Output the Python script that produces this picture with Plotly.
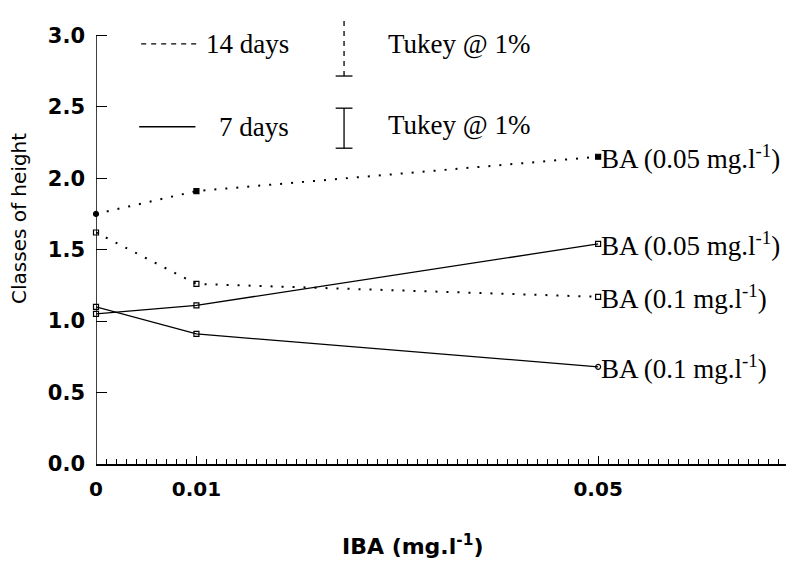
import plotly.graph_objects as go

# ---- data ----
iba = [0, 0.01, 0.05]
d14_ba005 = [1.75, 1.91, 2.15]
d14_ba01 = [1.62, 1.26, 1.17]
d7_ba005 = [1.05, 1.11, 1.54]
d7_ba01 = [1.10, 0.91, 0.68]
series_labels = ["BA (0.05 mg.l<sup>-1</sup>)", "BA (0.1 mg.l<sup>-1</sup>)",
                 "BA (0.05 mg.l<sup>-1</sup>)", "BA (0.1 mg.l<sup>-1</sup>)"]
x_tick_vals = [0, 0.01, 0.05]
x_tick_text = ["0", "0.01", "0.05"]
y_tick_vals = [0, 0.5, 1.0, 1.5, 2.0, 2.5, 3.0]
y_tick_text = ["0.0", "0.5", "1.0", "1.5", "2.0", "2.5", "3.0"]
tukey_14 = 0.41
tukey_7 = 0.28
tukey_14_center = 2.92
tukey_7_center = 2.35

SERIF = "Liberation Serif"
SANS = "DejaVu Sans"
DOT = "2px,9px"
DASH = "5px,5px"
SERIF_SIZE = 27

fig = go.Figure()

def add_series(y, dash, symbols, width):
    fig.add_trace(go.Scatter(
        x=iba, y=y, mode="lines+markers",
        line=dict(color="black", width=width, dash=dash),
        marker=dict(symbol=symbols, size=5, color="black",
                    line=dict(color="black", width=1.2)),
        showlegend=False, cliponaxis=False))

add_series(d14_ba005, DOT, ["circle", "square", "square"], 2)
add_series(d14_ba01, DOT, ["square-open"] * 3, 2)
add_series(d7_ba005, "solid", ["square-open"] * 3, 1.3)
add_series(d7_ba01, "solid", ["square-open", "square-open", "circle-open"], 1.3)

# y axis line drawn only up to 3.0
fig.add_shape(type="line", x0=0, x1=0, y0=0, y1=3, xref="x", yref="y",
              line=dict(color="black", width=1.5))

# right-hand labels
for yv, lab in zip([d14_ba005[-1], d14_ba01[-1], d7_ba005[-1], d7_ba01[-1]],
                   [series_labels[0], series_labels[1], series_labels[2], series_labels[3]]):
    fig.add_annotation(x=iba[-1], y=yv, xref="x", yref="y", text=lab,
                       showarrow=False, xanchor="left", yanchor="middle",
                       xshift=1, font=dict(family=SERIF, size=SERIF_SIZE, color="black"))

# Tukey bars
tx = 0.0247
fig.add_trace(go.Scatter(
    x=[tx, tx], y=[tukey_14_center - tukey_14 / 2, tukey_14_center + tukey_14 / 2],
    mode="lines", line=dict(color="black", width=1.3, dash=DASH),
    showlegend=False, cliponaxis=False))
fig.add_trace(go.Scatter(
    x=[tx], y=[tukey_14_center - tukey_14 / 2], mode="markers",
    marker=dict(symbol="line-ew", size=12, line=dict(color="black", width=1.3)),
    showlegend=False, cliponaxis=False))
fig.add_trace(go.Scatter(
    x=[tx, tx], y=[tukey_7_center - tukey_7 / 2, tukey_7_center + tukey_7 / 2],
    mode="lines+markers", line=dict(color="black", width=1.3),
    marker=dict(symbol="line-ew", size=12, line=dict(color="black", width=1.3)),
    showlegend=False, cliponaxis=False))

fig.add_annotation(x=0.0289, y=2.94, text="Tukey @ 1%", showarrow=False,
                   xanchor="left", yanchor="middle",
                   font=dict(family=SERIF, size=SERIF_SIZE, color="black"))
fig.add_annotation(x=0.0289, y=2.37, text="Tukey @ 1%", showarrow=False,
                   xanchor="left", yanchor="middle",
                   font=dict(family=SERIF, size=SERIF_SIZE, color="black"))

# legend samples
fig.add_shape(type="line", x0=0.0045, x1=0.0101, y0=2.94, y1=2.94,
              line=dict(color="black", width=1.3, dash=DASH))
fig.add_shape(type="line", x0=0.0043, x1=0.0099, y0=2.36, y1=2.36,
              line=dict(color="black", width=1.3))
fig.add_annotation(x=0.0194, y=2.94, text="14 days", showarrow=False,
                   xanchor="right", yanchor="middle",
                   font=dict(family=SERIF, size=SERIF_SIZE, color="black"))
fig.add_annotation(x=0.0194, y=2.36, text="7 days", showarrow=False,
                   xanchor="right", yanchor="middle",
                   font=dict(family=SERIF, size=SERIF_SIZE, color="black"))

# axis titles
fig.add_annotation(x=0.449, y=-0.178, xref="paper", yref="paper",
                   text="<b>IBA (mg.l<sup>-1</sup>)</b>", showarrow=False,
                   xanchor="center", yanchor="middle",
                   font=dict(family=SANS, size=22, color="black"))
fig.add_annotation(x=-0.109, y=0.541, xref="paper", yref="paper",
                   text="Classes of height", textangle=-90, showarrow=False,
                   xanchor="center", yanchor="middle",
                   font=dict(family=SANS, size=20, color="black"))

fig.update_layout(
    width=794, height=565,
    margin=dict(l=88, r=0, t=3, b=109),
    paper_bgcolor="white", plot_bgcolor="white",
    xaxis=dict(range=[0, 0.0703], tickvals=x_tick_vals, ticktext=x_tick_text,
               showgrid=False, zeroline=False, showline=True, linecolor="black",
               linewidth=1.5, ticks="inside", ticklen=8, tickcolor="black",
               tickwidth=1.3, ticklabelstandoff=6,
               tickfont=dict(family=SANS, size=20, color="black", weight="bold"),
               minor=dict(dtick=0.001, tick0=0, ticks="inside", ticklen=5,
                          tickcolor="black", tickwidth=1, showgrid=False)),
    yaxis=dict(range=[0, 3.17], tickvals=y_tick_vals, ticktext=y_tick_text,
               showgrid=False, zeroline=False, showline=False,
               ticks="inside", ticklen=11, tickcolor="black",
               tickwidth=1.3, ticklabelstandoff=10,
               tickfont=dict(family=SANS, size=21, color="black", weight="bold")),
)

fig.write_html("out.html")
